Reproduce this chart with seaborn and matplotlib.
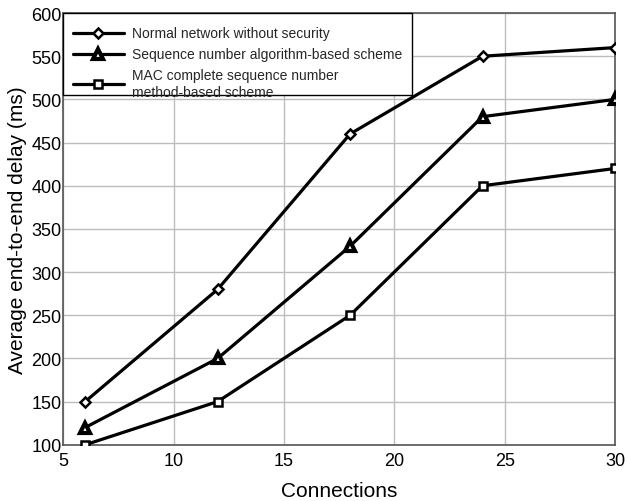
import matplotlib
matplotlib.use("Agg")
import matplotlib.pyplot as plt
from matplotlib.patches import Rectangle
import seaborn as sns
import pandas as pd

connections = [6, 12, 18, 24, 30]
normal = [150, 280, 460, 550, 560]
seq_alg = [120, 200, 330, 480, 500]
mac_seq = [100, 150, 250, 400, 420]
labels = ["Normal network without security",
          "Sequence number algorithm-based scheme",
          "MAC complete sequence number\nmethod-based scheme"]
markers = ["D", "^", "s"]
msizes = [5.5, 7.5, 5.5]
medges = [1.8, 3.0, 1.8]

sns.set_theme(style="whitegrid")
plt.rcParams['font.family'] = ['Liberation Sans', 'DejaVu Sans']

df = pd.DataFrame({
    "Connections": connections * 3,
    "Delay": normal + seq_alg + mac_seq,
    "Scheme": [labels[0]] * 5 + [labels[1]] * 5 + [labels[2]] * 5,
})

fig = plt.figure(figsize=(6.25, 5.02), dpi=100)
ax = fig.add_axes([0.101, 0.112, 0.883, 0.860])

for lab, mk, ms, me in zip(labels, markers, msizes, medges):
    sub = df[df["Scheme"] == lab]
    sns.lineplot(data=sub, x="Connections", y="Delay", ax=ax, color="black",
                 linewidth=2.3, marker=mk, markersize=ms,
                 markerfacecolor="white", markeredgecolor="black",
                 markeredgewidth=me, label=lab, zorder=3)

ax.set_xlim(5, 30)
ax.set_ylim(100, 600)
ax.set_xticks([5, 10, 15, 20, 25, 30])
ax.set_yticks(range(100, 601, 50))
ax.tick_params(axis="x", labelsize=13, pad=5, colors="black", length=0)
ax.tick_params(axis="y", labelsize=13, pad=1, colors="black", length=0)
ax.set_xlabel("Connections", fontsize=15, labelpad=9, color="black")
ax.set_ylabel("Average end-to-end delay (ms)", fontsize=15, labelpad=3, color="black")
ax.grid(True, color="#bdbdbd", linewidth=1.0)
ax.set_facecolor("white")
for s in ax.spines.values():
    s.set_color("#555555")
    s.set_linewidth(1.2)

# legend frame (shorter than content, as in the reference)
ax.add_patch(Rectangle((0.0, 0.81), 0.632, 0.19, transform=ax.transAxes,
                       facecolor="white", edgecolor="black", linewidth=1.0,
                       zorder=4, clip_on=False))
leg = ax.legend(loc="upper left", bbox_to_anchor=(0.011, 0.977), fontsize=10,
                frameon=False, borderpad=0.25, labelspacing=0.5,
                handlelength=3.7, handletextpad=0.6, borderaxespad=0.0)
leg.set_zorder(5)

fig.savefig("out.png", dpi=100)
